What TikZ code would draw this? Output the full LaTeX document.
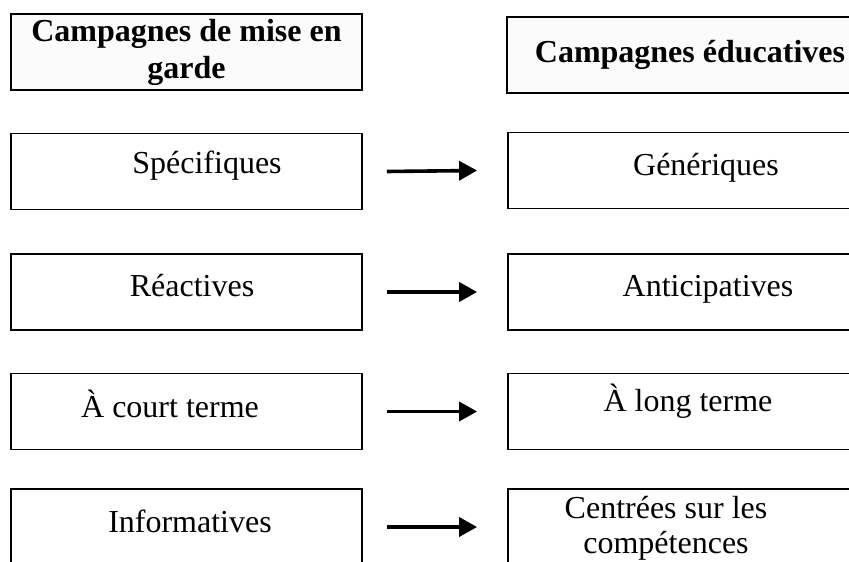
\documentclass[tikz,border=0pt]{standalone}
\usepackage{fontspec}
\setmainfont{Liberation Serif}
\usetikzlibrary{arrows.meta}

\tikzstyle{headL}=[rectangle,draw,line width=0.9pt,fill=gray!3,inner sep=0pt,minimum width=175.5pt,minimum height=38pt,align=center,font=\bfseries\fontsize{16}{18.5}\selectfont]
\tikzstyle{headR}=[headL,minimum width=183pt]
\tikzstyle{campL}=[rectangle,draw,line width=0.9pt,inner sep=0pt,minimum width=175.5pt,minimum height=38pt]
\tikzstyle{campR}=[campL,minimum width=182.5pt]
\tikzstyle{txt}=[anchor=base,inner sep=0pt,align=center,font=\fontsize{16}{17.5}\selectfont]
\tikzstyle{edge}=[draw,line width=1.8pt]

\begin{document}
\begin{tikzpicture}[->, >={Triangle[length=9pt,width=9.5pt]}, x=0.5pt, y=-0.5pt]
	\clip (0,0) rectangle (849,561);
	% headers
	\node [headL] (warn) at (186.5,52) {Campagnes de mise en\\garde};
	\node [headR] (educ) at (690,55)   {Campagnes éducatives};

	% boxes
	\node [campL] (specB) at (186.5,171.5) {};
	\node [campR] (geneB) at (690.5,170.5) {};
	\node [campL] (reacB) at (186.5,292)   {};
	\node [campR] (antiB) at (690.5,292)   {};
	\node [campL] (courB) at (186.5,411.5) {};
	\node [campR] (longB) at (690.5,411.5) {};
	\node [campL] (inforB) at (186.5,527)  {};
	\node [campR] (compB) at (690.5,527)   {};

	% texts
	\node [txt] (spec)  at (207,174) {Spécifiques};
	\node [txt] (gene)  at (706,176) {Génériques};
	\node [txt] (reac)  at (192,296) {Réactives};
	\node [txt] (anti)  at (708,296) {Anticipatives};
	\node [txt] (cour)  at (170,417) {À court terme};
	\node [txt] (long)  at (688,411) {À long terme};
	\node [txt] (infor) at (190,532) {Informatives};
	\node [txt] (comp)  at (666,553) {Centrées sur les\\compétences};

	\draw [edge] ([xshift=12pt]specB.east)  -- ([xshift=-15pt]geneB.west);
	\draw [edge] ([xshift=12pt]reacB.east)  -- ([xshift=-15pt]antiB.west);
	\draw [edge] ([xshift=12pt]courB.east)  -- ([xshift=-15pt]longB.west);
	\draw [edge] ([xshift=12pt]inforB.east) -- ([xshift=-15pt]compB.west);
\end{tikzpicture}
\end{document}
